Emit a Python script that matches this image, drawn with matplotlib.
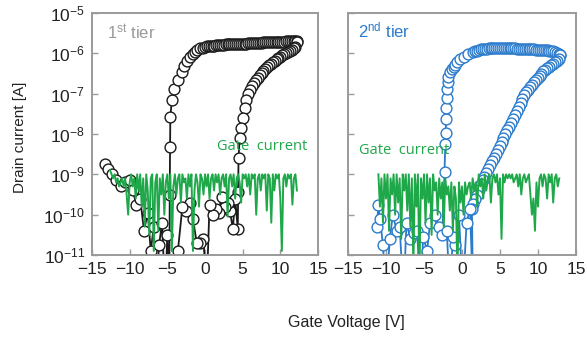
import numpy as np
import matplotlib
matplotlib.use("Agg")
import matplotlib.pyplot as plt
from matplotlib.ticker import LogLocator, NullLocator

plt.rcParams['font.family'] = ['Liberation Sans', 'DejaVu Sans']
plt.rcParams['mathtext.fontset'] = 'custom'
plt.rcParams['mathtext.rm'] = 'Liberation Sans'
plt.rcParams['mathtext.it'] = 'Liberation Sans:italic'
plt.rcParams['mathtext.bf'] = 'Liberation Sans:bold'
plt.rcParams['axes.unicode_minus'] = True

# ---- data (log10 of current in A) ----
# 1st tier, forward sweep
t1_fwd_v = [-13.3, -12.9, -12.4, -11.8, -11.2, -10.6, -10.0, -9.6, -9.1, -8.6,
            -8.1, -7.6, -7.2, -6.8, -6.5, -6.1, -5.7, -5.3, -5.0, -4.75,
            -4.68, -4.64, -4.6, -4.4, -4.1, -3.6, -3.05, -2.8, -2.4, -2.0,
            -1.6, -1.3, -1.0, -0.65, -0.3,
            0.0, 0.25, 0.5, 0.75, 1.0, 1.25, 1.5, 1.75, 2.0, 2.25,
            2.5, 2.75, 3.0, 3.25, 3.5, 3.75, 4.0, 4.25, 4.5, 4.75,
            5.0, 5.25, 5.5, 5.75, 6.0, 6.25, 6.5, 6.75, 7.0, 7.25,
            7.5, 7.75, 8.0, 8.25, 8.5, 8.75, 9.0, 9.25, 9.5, 9.75,
            10.0, 10.25, 10.5, 10.75, 11.0, 11.25, 11.5, 11.75, 12.0, 12.2]
t1_fwd_log = [-8.75, -8.88, -9.0, -9.15, -9.3, -9.2, -9.13, -9.4, -9.75, -9.6,
              -10.4, -9.95, -10.9, -10.3, -12.0, -10.75, -10.2, -12.0, -10.5, -12.0,
              -9.5, -8.33, -7.58, -7.15, -6.88, -6.65, -6.47, -6.32, -6.2, -6.08,
              -6.02, -5.97, -5.92, -5.88, -5.86,
              -5.84, -5.83, -5.82, -5.82, -5.81, -5.81, -5.8, -5.8, -5.79, -5.79,
              -5.79, -5.78, -5.78, -5.78, -5.78, -5.77, -5.77, -5.77, -5.77, -5.76,
              -5.76, -5.76, -5.76, -5.75, -5.75, -5.75, -5.75, -5.74, -5.74, -5.74,
              -5.74, -5.73, -5.73, -5.73, -5.73, -5.72, -5.72, -5.72, -5.72, -5.71,
              -5.71, -5.71, -5.71, -5.7, -5.7, -5.7, -5.7, -5.7, -5.7, -5.7]

# 1st tier, reverse sweep
t1_rev_v = [12.2, 12.0, 11.75, 11.5, 11.25, 11.0, 10.75, 10.5, 10.25, 10.0,
            9.75, 9.5, 9.25, 9.0, 8.75, 8.5, 8.25, 8.0, 7.75, 7.5,
            7.25, 7.0, 6.75, 6.5, 6.25, 6.0, 5.75, 5.5, 5.25, 5.0,
            4.8, 4.6, 4.45, 4.4, 4.35, 4.0, 3.7, 3.3, 3.0, 2.6,
            2.2, 1.8, 1.4, 1.0, 0.6, 0.2, -0.2, -0.7, -1.1, -1.6,
            -2.0, -2.5, -3.0, -3.6, -4.0]
t1_rev_log = [-5.72, -5.85, -5.88, -5.91, -5.94, -5.97, -5.99, -6.02, -6.05, -6.08,
              -6.11, -6.14, -6.18, -6.22, -6.26, -6.3, -6.34, -6.38, -6.43, -6.48,
              -6.54, -6.6, -6.66, -6.73, -6.81, -6.9, -7.0, -7.15, -7.35, -7.6,
              -7.85, -8.1, -8.6, -9.43, -10.35, -9.6, -10.35, -9.9, -9.7, -9.8,
              -9.55, -9.95, -9.85, -10.0, -9.75, -12.0, -10.6, -10.7, -10.7, -10.1,
              -9.7, -9.9, -9.8, -10.9, -12.0]

# 2nd tier, forward sweep
t2_fwd_v = [-11.2, -11.0, -10.8, -10.4, -10.0, -9.5, -9.1, -8.6, -8.2, -7.7,
            -7.3, -6.8, -6.3, -5.9, -5.5, -5.1, -4.6, -4.2, -3.6, -3.0,
            -2.6, -2.3, -2.2, -2.15, -2.1, -2.05, -2.0, -1.95, -1.9, -1.8,
            -1.6, -1.35, -1.1, -0.9, -0.6, -0.25, 0.2, 0.8, 1.4, 1.75,
            2.0, 2.25, 2.5, 2.75, 3.0, 3.25, 3.5, 3.75, 4.0, 4.25,
            4.5, 4.75, 5.0, 5.25, 5.5, 5.75, 6.0, 6.25, 6.5, 6.75,
            7.0, 7.25, 7.5, 7.75, 8.0, 8.25, 8.5, 8.75, 9.0, 9.25,
            9.5, 9.75, 10.0, 10.25, 10.5, 10.75, 11.0, 11.25, 11.5, 11.75,
            12.0, 12.25, 12.5, 12.7, 12.9]
t2_fwd_log = [-10.3, -9.75, -10.1, -10.75, -12.0, -10.6, -10.0, -10.4, -10.3, -12.0,
              -10.2, -10.6, -10.45, -10.4, -12.0, -10.55, -10.9, -10.2, -10.0, -10.3,
              -10.5, -8.93, -8.25, -7.98, -7.63, -7.35, -7.1, -6.88, -6.72, -6.58,
              -6.47, -6.4, -6.34, -6.3, -6.22, -6.15, -6.08, -6.02, -5.97, -5.95,
              -5.93, -5.92, -5.9, -5.9, -5.89, -5.89, -5.88, -5.88, -5.88, -5.88,
              -5.88, -5.88, -5.88, -5.88, -5.88, -5.88, -5.88, -5.88, -5.88, -5.88,
              -5.88, -5.89, -5.89, -5.89, -5.89, -5.9, -5.9, -5.9, -5.9, -5.9,
              -5.9, -5.91, -5.91, -5.91, -5.91, -5.92, -5.92, -5.92, -5.93, -5.94,
              -5.95, -5.96, -5.98, -6.01, -6.05]

# 2nd tier, reverse sweep
t2_rev_v = [12.9, 12.7, 12.45, 12.2, 11.95, 11.7, 11.45, 11.2, 10.95, 10.7,
            10.45, 10.2, 9.95, 9.7, 9.45, 9.2, 8.95, 8.7, 8.45, 8.2,
            7.95, 7.7, 7.45, 7.2, 6.95, 6.7, 6.45, 6.2, 5.95, 5.7,
            5.45, 5.2, 4.95, 4.7, 4.45, 4.2, 3.95, 3.7, 3.45, 3.2,
            2.95, 2.7, 2.45, 2.2, 1.95, 1.7, 1.5, 1.3, 1.45, 1.05,
            0.6, 0.1, -0.4, -0.9, -1.2, -1.6, -2.0]
t2_rev_log = [-6.05, -6.13, -6.18, -6.22, -6.26, -6.29, -6.33, -6.37, -6.41, -6.45,
              -6.5, -6.55, -6.6, -6.66, -6.72, -6.78, -6.84, -6.91, -6.97, -7.04,
              -7.13, -7.23, -7.33, -7.43, -7.53, -7.63, -7.73, -7.82, -7.91, -8.0,
              -8.1, -8.2, -8.3, -8.4, -8.5, -8.6, -8.68, -8.76, -8.86, -8.96,
              -9.06, -9.15, -9.25, -9.38, -9.5, -9.62, -9.74, -9.85, -12.0, -9.85,
              -10.2, -12.0, -10.0, -10.75, -10.55, -12.0, -10.4]

# gate current (uniform sweep)
gate1_v = np.linspace(-12.6, 12.2, 125)
gate1_log = [-8.9, -9.0, -9.1, -9.0, -9.2, -9.1, -9.3, -9.2, -9.1, -9.3,
             -9.1, -9.5, -10.0, -9.2, -9.0, -9.3, -9.1, -9.6, -9.0, -9.4,
             -9.0, -9.8, -9.1, -10.3, -9.0, -9.4, -10.5, -9.1, -9.0, -10.9,
             -9.2, -9.0, -10.4, -9.1, -9.5, -9.0, -10.0, -9.2, -9.0, -9.6,
             -9.0, -10.9, -9.3, -9.0, -9.5, -9.1, -9.0, -9.7, -9.0, -9.2,
             -9.1, -9.6, -9.0, -9.3, -9.0, -10.9, -9.4, -9.0, -9.2, -9.8,
             -9.0, -9.1, -9.5, -9.0, -9.3, -9.0, -9.6, -9.1, -9.0, -9.4,
             -9.0, -9.2, -9.0, -9.5, -9.1, -9.0, -9.3, -9.0, -10.05, -9.1,
             -9.0, -9.3, -9.0, -9.6, -9.1, -9.0, -9.2, -9.7, -9.0, -9.1,
             -9.0, -9.3, -9.0, -9.5, -9.0, -9.1, -9.0, -10.0, -9.1, -9.0,
             -9.4, -9.0, -9.1, -9.0, -9.9, -9.0, -9.1, -10.2, -9.0, -9.4,
             -9.0, -9.1, -9.0, -9.6, -10.9, -9.1, -9.0, -9.3, -9.0, -9.1,
             -9.0, -9.75, -9.1, -9.0, -9.4]
gate2_v = np.linspace(-11.0, 12.8, 120)
gate2_log = [-9.0, -9.8, -9.1, -10.2, -9.0, -9.6, -9.0, -10.4, -9.1, -9.5,
             -9.0, -10.0, -9.0, -9.7, -9.1, -10.6, -9.0, -9.4, -9.0, -9.9,
             -9.0, -10.3, -9.1, -11.3, -9.0, -9.8, -9.0, -11.5, -9.1, -9.6,
             -9.0, -10.2, -9.0, -9.7, -9.1, -10.5, -9.0, -9.4, -9.2, -10.0,
             -9.1, -9.6, -9.2, -10.3, -9.1, -9.5, -9.3, -9.9, -9.2, -10.4,
             -9.3, -9.6, -11.5, -9.2, -9.7, -9.3, -10.0, -9.2, -9.5, -9.3,
             -9.2, -9.6, -9.1, -9.4, -9.2, -9.8, -9.0, -9.3, -9.1, -9.6,
             -9.0, -9.4, -9.1, -9.0, -9.7, -9.1, -9.0, -9.2, -9.0, -9.5,
             -9.1, -10.6, -9.0, -9.2, -9.0, -9.1, -9.0, -9.1, -9.0, -9.2,
             -9.1, -9.0, -9.3, -9.0, -9.5, -9.1, -9.0, -9.2, -9.1, -9.0,
             -9.5, -10.0, -9.6, -10.4, -9.2, -9.8, -9.1, -9.0, -9.3, -9.0,
             -9.1, -9.6, -9.0, -9.2, -9.0, -9.7, -9.1, -9.0, -9.3, -9.1]

black = '#1a1a1a'
blue = '#2b7bcc'
green = '#1fa84a'
spine_gray = '#9a9a9a'

fig = plt.figure(figsize=(5.87, 3.37), dpi=100)
ax1 = fig.add_axes([92 / 587, 1 - 255 / 337, 226 / 587, 242 / 337])
ax2 = fig.add_axes([348 / 587, 1 - 255 / 337, 228 / 587, 242 / 337])

mk = dict(marker='o', markersize=7.8, markerfacecolor='white', markeredgewidth=1.0, linewidth=1.3)

for v, lg in [(t1_fwd_v, t1_fwd_log), (t1_rev_v, t1_rev_log)]:
    ax1.plot(v, 10 ** np.array(lg), color=black, markeredgecolor=black, **mk)
ax1.plot(gate1_v, 10 ** np.array(gate1_log), color=green, linewidth=1.4)

for v, lg in [(t2_fwd_v, t2_fwd_log), (t2_rev_v, t2_rev_log)]:
    ax2.plot(v, 10 ** np.array(lg), color=blue, markeredgecolor=blue, **mk)
ax2.plot(gate2_v, 10 ** np.array(gate2_log), color=green, linewidth=1.4)

for ax in (ax1, ax2):
    ax.set_yscale('log')
    ax.set_ylim(1e-11, 1e-5)
    ax.set_xlim(-15, 15)
    ax.set_xticks([-15, -10, -5, 0, 5, 10, 15])
    ax.yaxis.set_major_locator(LogLocator(base=10, numticks=10))
    ax.yaxis.set_minor_locator(NullLocator())
    for s in ax.spines.values():
        s.set_color(spine_gray)
        s.set_linewidth(1.4)
    ax.tick_params(direction='in', length=4, width=1, color=spine_gray,
                   labelsize=12.5, labelcolor='#222222', pad=5)

ax2.tick_params(labelleft=False)

ax1.text(0.065, 0.89, r'1$^{\mathrm{st}}$ tier', transform=ax1.transAxes,
         fontsize=12, color='#999999')
ax2.text(0.045, 0.90, r'2$^{\mathrm{nd}}$ tier', transform=ax2.transAxes,
         fontsize=12, color=blue)
ax1.text(0.555, 0.45, 'Gate  current', transform=ax1.transAxes,
         fontsize=10.5, color=green, family=['Open Sans', 'DejaVu Sans'], va='center')
ax2.text(0.05, 0.43, 'Gate  current', transform=ax2.transAxes,
         fontsize=10.5, color=green, family=['Open Sans', 'DejaVu Sans'], va='center')

fig.text(20 / 587, 1 - 137 / 337, 'Drain current [A]', rotation=90,
         ha='center', va='center', fontsize=11, color='#222222')
fig.text(346 / 587, 1 - 322 / 337, 'Gate Voltage [V]',
         ha='center', va='center', fontsize=11.5, color='#222222')

fig.savefig('out.png', dpi=100)
plt.close(fig)
